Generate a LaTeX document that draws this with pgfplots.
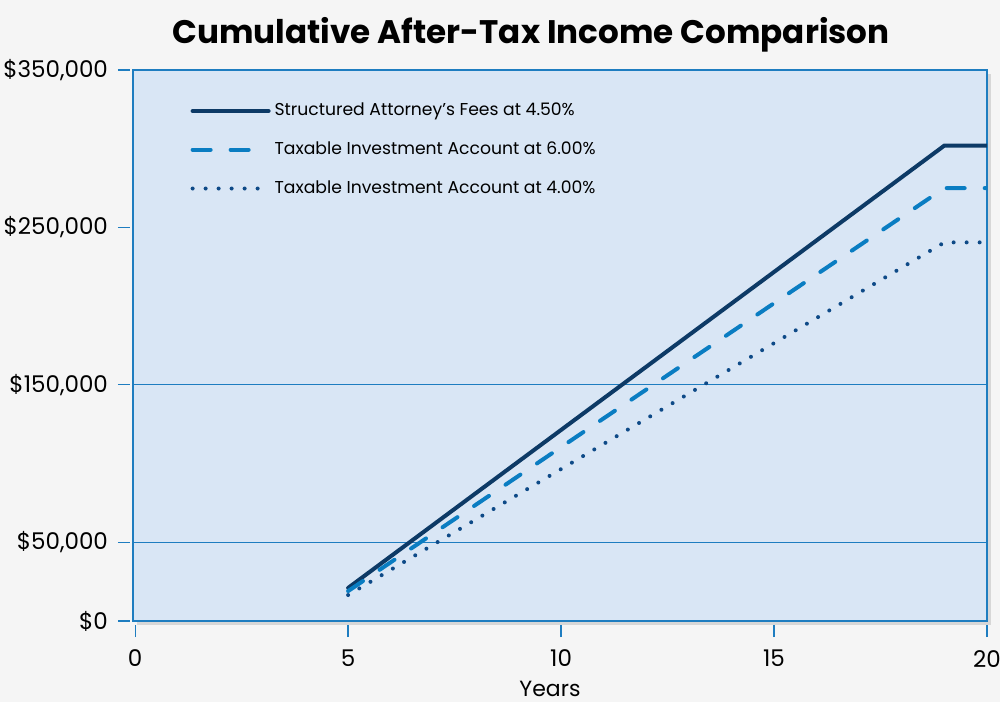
\documentclass[border=0pt]{standalone}
\usepackage{pgfplots}
\pgfplotsset{compat=1.18}
\usepackage{fontspec}
\setmainfont{Poppins}
\usetikzlibrary{shadows,backgrounds}
\definecolor{pagebg}{HTML}{F5F5F5}
\definecolor{axbg}{HTML}{D9E6F5}
\definecolor{axline}{HTML}{1E7DC0}
\definecolor{navy}{HTML}{0D3A66}
\definecolor{midblue}{HTML}{0A7DC2}
\definecolor{dotblue}{HTML}{0E4A87}
\begin{document}
\begin{tikzpicture}
\begin{axis}[
  name=ax,
  scale only axis,
  width=427pt, height=275.5pt,
  xmin=-0.05, xmax=20, ymin=0, ymax=350000,
  scaled y ticks=false, scaled x ticks=false,
  axis line style={axline, line width=1pt},
  axis background/.style={fill=axbg, drop shadow={shadow xshift=2pt, shadow yshift=-2pt, opacity=0.25}},
  xtick={0,5,10,15,20},
  ytick={0,50000,150000,250000,350000},
  yticklabels={{\$0},{\$50,000},{\$150,000},{\$250,000},{\$350,000}},
  xticklabels={0,5,10,15,20},
  tick align=outside,
  major tick length=6pt,
  tick style={axline, line width=0.6pt},
  xtick style={yshift=-2pt},
  ytick style={xshift=-1.5pt},
  ticklabel style={font=\fontsize{11.5}{12}\selectfont, text=black},
  xticklabel style={yshift=-5pt},
  yticklabel style={xshift=-3pt},
  xtick pos=bottom, ytick pos=left,
  extra y ticks={50000,150000},
  extra y tick labels={},
  extra y tick style={grid=major, major tick length=0pt, major grid style={axline, line width=0.6pt}},
  xlabel={Years},
  xlabel style={font=\fontsize{11}{12}\selectfont, yshift=0pt, xshift=-5pt},
  legend style={draw=none, fill=none, at={(0.06,0.955)}, anchor=north west,
    font=\fontsize{8.6}{10}\selectfont, row sep=7.5pt, cells={anchor=west}},
  legend cell align=left,
  legend image code/.code={\draw[#1] (0pt,0pt) -- (38pt,0pt);},
]
\addplot[navy, line width=2pt, line cap=round] coordinates {(5,21000) (19,302000) (20,302000)};
\addlegendentry{Structured Attorney’s Fees at 4.50\%}
\addplot[midblue, line width=2pt, line cap=round, dash pattern=on 9pt off 10pt] coordinates {(5,19000) (19,275000) (20,275000)};
\addlegendentry{Taxable Investment Account at 6.00\%}
\addplot[dotblue, line width=2pt, line cap=round, dash pattern=on 0pt off 6.5pt] coordinates {(5,16500) (19,240500) (20,240500)};
\addlegendentry{Taxable Investment Account at 4.00\%}
\end{axis}
\node[anchor=base, font=\fontsize{16.3}{19}\selectfont\bfseries] at ([xshift=-14.5pt, yshift=13pt]ax.north) {Cumulative After-Tax Income Comparison};
\pgfresetboundingbox
\path[use as bounding box] ([shift={(-66.5pt,-40.5pt)}]ax.south west) rectangle ([shift={(6.5pt,35pt)}]ax.north east);
\begin{pgfonlayer}{background}
\fill[pagebg] ([shift={(-66.5pt,-40.5pt)}]ax.south west) rectangle ([shift={(6.5pt,35pt)}]ax.north east);
\end{pgfonlayer}
\end{tikzpicture}
\end{document}
